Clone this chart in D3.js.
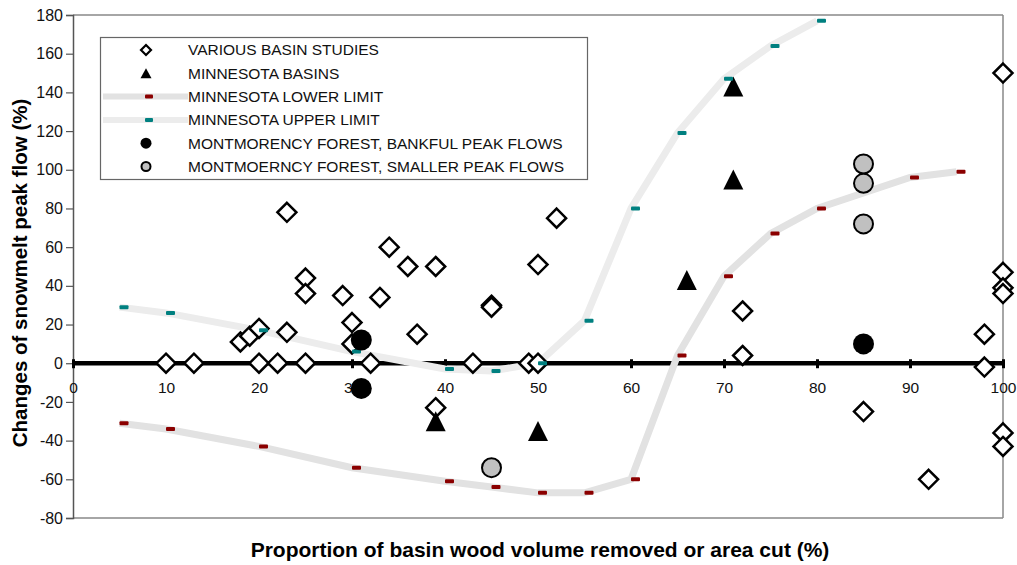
<!DOCTYPE html>
<html>
<head>
<meta charset="utf-8">
<script src="https://cdn.jsdelivr.net/npm/d3@7"></script>
<style>
html,body{margin:0;padding:0;background:#fff;}
svg{display:block;font-family:"Liberation Sans",Arial,sans-serif;}
</style>
</head>
<body>
<svg id="chart" width="1017" height="565"></svg>
<script>
// ---- data ----
const variousX = [10,13,20,22,25,32,43,49,50, 18,19,20,23,23,25,25,29,30,30,33,34,36,39,37,45,45,50,52,39, 72,72,85,92,98,98,100,100,100,100,100,100];
const variousY = [0,0,0,0,0,0,0,0,0, 11,14,18,16,78,44,36,35,21,10,34,60,50,50,15,30,29,51,75,-23, 27,4,-25,-60,15,-2,150,47,39,36,-36,-43];
const minnX = [39,50,66,71,71];
const minnY = [-30,-35,43,95,143];
const lowerX = [5,10,20,30,40,45,50,55,60,65,70,75,80,90,95];
const lowerY = [-31,-34,-43,-54,-61,-64,-67,-67,-60,4,45,67,80,96,99];
const upperX = [5,10,20,30,40,45,50,55,60,65,70,75,80];
const upperY = [29,26,17,6,-3,-4,0,22,80,119,147,164,177];
const bankX = [31,31,85];
const bankY = [12,-13,10];
const smallX = [45,85,85,85];
const smallY = [-54,103,93,72];
const xTicks = [0,10,20,30,40,50,60,70,80,90,100];
const yTicks = [-80,-60,-40,-20,0,20,40,60,80,100,120,140,160,180];
const legendLabels = ["VARIOUS BASIN STUDIES","MINNESOTA BASINS","MINNESOTA LOWER LIMIT","MINNESOTA UPPER LIMIT","MONTMORENCY FOREST, BANKFUL PEAK FLOWS","MONTMOERNCY FOREST, SMALLER PEAK FLOWS"];
const xTitle = "Proportion of basin wood volume removed or area cut (%)";
const yTitle = "Changes of snowmelt peak flow (%)";

// ---- drawing ----
const svg = d3.select("#chart");
const x = d3.scaleLinear().domain([0,100]).range([73,1003]);
const y = d3.scaleLinear().domain([-80,180]).range([518,15]);
const zip = (a,b)=>a.map((v,i)=>[v,b[i]]);

const diamond = s => `M0,${-s}L${s},0L0,${s}L${-s},0Z`;
const triangle = (w,h) => `M0,${-h/2}L${w/2},${h/2}L${-w/2},${h/2}Z`;

// frame
const fr = svg.append("g");
fr.append("line").attr("x1",x(0)).attr("x2",x(100)).attr("y1",y(180)).attr("y2",y(180)).attr("stroke","#888").attr("stroke-width",1.5);
fr.append("line").attr("x1",x(100)).attr("x2",x(100)).attr("y1",y(180)).attr("y2",y(-80)).attr("stroke","#888").attr("stroke-width",1.5);
fr.append("line").attr("x1",x(0)).attr("x2",x(100)).attr("y1",y(-80)).attr("y2",y(-80)).attr("stroke","#888").attr("stroke-width",1.5);

// y axis
const ya = svg.append("g").attr("transform",`translate(${x(0)},0)`)
  .call(d3.axisLeft(y).tickValues(yTicks).tickSize(7).tickPadding(3).tickFormat(d=>String(d)));
ya.select(".domain").attr("stroke","#555").attr("stroke-width",1.5);
ya.selectAll(".tick line").attr("stroke","#555").attr("stroke-width",1.2);
ya.selectAll("text").attr("font-size",16).attr("fill","#111").attr("font-family","Liberation Sans, Arial, sans-serif");

// x axis at zero
const xa = svg.append("g").attr("transform",`translate(0,${y(0)})`)
  .call(d3.axisBottom(x).tickValues(xTicks).tickSize(5).tickPadding(14).tickFormat(d=>String(d)));
xa.select(".domain").remove();
xa.selectAll(".tick line").attr("stroke","#000").attr("stroke-width",3).attr("y1",-4);
xa.selectAll("text").attr("font-size",15.5).attr("fill","#111").attr("font-family","Liberation Sans, Arial, sans-serif");
svg.append("line").attr("x1",x(0)).attr("x2",x(100)).attr("y1",y(0)).attr("y2",y(0)).attr("stroke","#000").attr("stroke-width",4.5);

// limit lines
const line = d3.line().x(d=>x(d[0])).y(d=>y(d[1]));
const lowerData = zip(lowerX,lowerY), upperData = zip(upperX,upperY);
svg.append("path").attr("d",line(lowerData)).attr("fill","none").attr("stroke","#e2e2e2").attr("stroke-width",7);
svg.append("path").attr("d",line(upperData)).attr("fill","none").attr("stroke","#ececec").attr("stroke-width",7);

// diamonds
svg.append("g").selectAll("path").data(zip(variousX,variousY)).join("path")
  .attr("transform",d=>`translate(${x(d[0])},${y(d[1])})`)
  .attr("d",diamond(9.5)).attr("fill","#fff").attr("stroke","#000").attr("stroke-width",2.5).attr("stroke-linejoin","miter");

// triangles
svg.append("g").selectAll("path").data(zip(minnX,minnY)).join("path")
  .attr("transform",d=>`translate(${x(d[0])},${y(d[1])})`)
  .attr("d",triangle(20,20)).attr("fill","#000");

// dash markers
function dashes(data,color){
  svg.append("g").selectAll("rect").data(data).join("rect")
    .attr("x",d=>x(d[0])).attr("y",d=>y(d[1])-2).attr("width",9).attr("height",4).attr("rx",1)
    .attr("fill",color);
}
dashes(lowerData,"#8b0000");
dashes(upperData,"#008080");

// circles
svg.append("g").selectAll("circle").data(zip(bankX,bankY)).join("circle")
  .attr("cx",d=>x(d[0])).attr("cy",d=>y(d[1])).attr("r",10.5).attr("fill","#000");
svg.append("g").selectAll("circle").data(zip(smallX,smallY)).join("circle")
  .attr("cx",d=>x(d[0])).attr("cy",d=>y(d[1])).attr("r",9.5).attr("fill","#c0c0c0").attr("stroke","#000").attr("stroke-width",2);

// legend
const lg = svg.append("g");
lg.append("rect").attr("x",100.5).attr("y",37.5).attr("width",487).attr("height",142).attr("fill","#fff").attr("stroke","#666").attr("stroke-width",1.2);
const rowY = i => 50 + i*23.3;
const sx = 146;
legendLabels.forEach((t,i)=>{
  lg.append("text").attr("x",188).attr("y",rowY(i)).attr("dy","0.35em").attr("font-size",15.5).attr("fill","#111").text(t);
});
lg.append("path").attr("transform",`translate(${sx},${rowY(0)})`).attr("d",diamond(5)).attr("fill","#fff").attr("stroke","#000").attr("stroke-width",2.2);
lg.append("path").attr("transform",`translate(${sx},${rowY(1)})`).attr("d",triangle(11,10)).attr("fill","#000");
lg.append("line").attr("x1",103).attr("x2",188).attr("y1",rowY(2)).attr("y2",rowY(2)).attr("stroke","#e2e2e2").attr("stroke-width",6);
lg.append("rect").attr("x",sx-1).attr("y",rowY(2)-2).attr("width",8).attr("height",4).attr("rx",1).attr("fill","#8b0000");
lg.append("line").attr("x1",103).attr("x2",188).attr("y1",rowY(3)).attr("y2",rowY(3)).attr("stroke","#ececec").attr("stroke-width",6);
lg.append("rect").attr("x",sx-1).attr("y",rowY(3)-2).attr("width",8).attr("height",4).attr("rx",1).attr("fill","#008080");
lg.append("circle").attr("cx",sx).attr("cy",rowY(4)).attr("r",5.5).attr("fill","#000");
lg.append("circle").attr("cx",sx).attr("cy",rowY(5)).attr("r",4.5).attr("fill","#c0c0c0").attr("stroke","#000").attr("stroke-width",2);

// titles
svg.append("text").attr("x",540).attr("y",557).attr("text-anchor","middle").attr("font-size",21).attr("font-weight","bold").attr("fill","#000").text(xTitle);
svg.append("text").attr("transform","translate(27,273) rotate(-90)").attr("text-anchor","middle").attr("font-size",20.5).attr("font-weight","bold").attr("fill","#000").text(yTitle);
</script>
</body>
</html>
